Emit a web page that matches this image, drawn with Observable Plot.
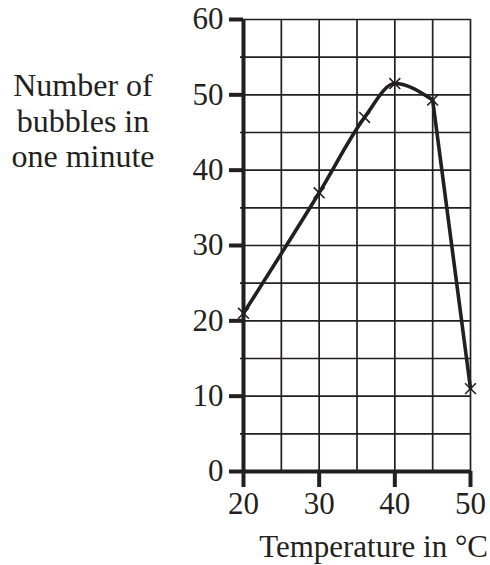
<!DOCTYPE html>
<html>
<head>
<meta charset="utf-8">
<script src="https://cdn.jsdelivr.net/npm/d3@7"></script>
<script src="https://cdn.jsdelivr.net/npm/@observablehq/plot@0.6"></script>
<style>
  html, body { margin: 0; padding: 0; background: #fff; }
  #chart { width: 490px; height: 565px; }
  #chart svg, #chart svg text { font-family: 'Liberation Serif', 'DejaVu Serif', serif !important; }
</style>
</head>
<body>
<div id="chart"></div>
<script>
// Data
const temperature = [20, 30, 36, 40, 45, 50];
const bubbles = [21, 37, 47, 51.5, 49.3, 11];
const xTicks = [20, 30, 40, 50];
const yTicks = [0, 10, 20, 30, 40, 50, 60];
const xGrid = [20, 25, 30, 35, 40, 45, 50];
const yGrid = [0, 5, 10, 15, 20, 25, 30, 35, 40, 45, 50, 55, 60];
const xTitle = "Temperature in °C";
const yTitleLines = ["Number of", "bubbles in", "one minute"];

const data = temperature.map((t, i) => ({t, n: bubbles[i]}));
const ink = "#231f20";
const font = "'Liberation Serif', 'DejaVu Serif', serif";
const fs = 31;

const chart = Plot.plot({
  width: 490,
  height: 565,
  marginLeft: 243,
  marginRight: 20,
  marginTop: 19,
  marginBottom: 94,
  style: {fontFamily: font, color: ink, background: "#fff", overflow: "visible"},
  x: {domain: [20, 50]},
  y: {domain: [0, 60]},
  marks: [
    Plot.ruleX(xGrid, {stroke: ink, strokeWidth: 1.7, strokeOpacity: 1}),
    Plot.ruleY(yGrid, {stroke: ink, strokeWidth: 1.7, strokeOpacity: 1, x1: 19.6, x2: 50}),
    Plot.axisY({ticks: yTicks, tickSize: 14, tickPadding: 6, fontSize: fs, strokeWidth: 4, stroke: ink, fill: ink, label: null}),
    Plot.axisX({ticks: xTicks, tickSize: 16, tickPadding: 4, fontSize: fs, strokeWidth: 4, stroke: ink, fill: ink, label: null}),
    Plot.ruleX([20], {stroke: ink, strokeWidth: 4}),
    Plot.ruleY([0], {stroke: ink, strokeWidth: 4, x1: 20, x2: 50}),
    // smooth rise and peak, then straight steep fall
    Plot.line(data.slice(0, 5), {x: "t", y: "n", curve: "monotone-x", stroke: ink, strokeWidth: 3.6}),
    Plot.line(data.slice(4), {x: "t", y: "n", curve: "linear", stroke: ink, strokeWidth: 3.6, strokeLinejoin: "round"}),
    Plot.dot(data, {x: "t", y: "n", symbol: "times", r: 5, stroke: ink, strokeWidth: 1.6})
  ]
});

const svg = d3.select(chart);
svg.append("text")
  .attr("x", 488).attr("y", 557)
  .attr("text-anchor", "end")
  .attr("font-family", font).attr("font-size", fs).attr("fill", ink)
  .text(xTitle);

const yt = svg.append("text")
  .attr("text-anchor", "middle")
  .attr("font-family", font).attr("font-size", 32).attr("fill", ink);
yTitleLines.forEach((line, i) => {
  yt.append("tspan").attr("x", 83).attr("y", 96 + i * 35.5).text(line);
});

document.getElementById("chart").appendChild(chart);
</script>
</body>
</html>
